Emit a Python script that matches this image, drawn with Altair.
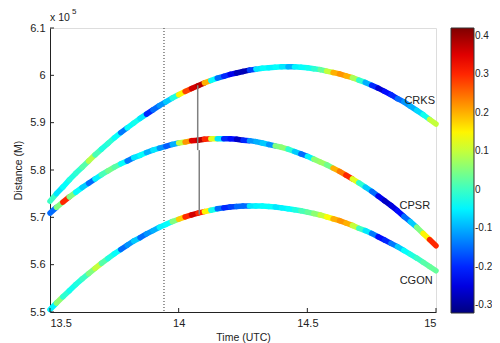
import altair as alt
import pandas as pd

# sample times (UTC hours)
times = [13.5, 13.525, 13.55, 13.575, 13.6, 13.625, 13.65, 13.675, 13.7, 13.725,
         13.75, 13.775, 13.8, 13.825, 13.85, 13.875, 13.9, 13.925, 13.95, 13.975,
         14.0, 14.025, 14.05, 14.075, 14.1, 14.125, 14.15, 14.175, 14.2, 14.225,
         14.25, 14.275, 14.3, 14.325, 14.35, 14.375, 14.4, 14.425, 14.45, 14.475,
         14.5, 14.525, 14.55, 14.575, 14.6, 14.625, 14.65, 14.675, 14.7, 14.725,
         14.75, 14.775, 14.8, 14.825, 14.85, 14.875, 14.9, 14.925, 14.95, 14.975,
         15.0]

# distances (x 10^5 m)
crks_d = [5.734, 5.750, 5.764, 5.779, 5.793, 5.806, 5.819, 5.832, 5.844, 5.856,
          5.868, 5.879, 5.889, 5.899, 5.909, 5.918, 5.927, 5.936, 5.944, 5.952,
          5.959, 5.966, 5.972, 5.978, 5.984, 5.989, 5.994, 5.998, 6.002, 6.005,
          6.008, 6.011, 6.013, 6.015, 6.016, 6.017, 6.018, 6.018, 6.018, 6.017,
          6.016, 6.014, 6.012, 6.009, 6.006, 6.003, 5.999, 5.995, 5.990, 5.985,
          5.979, 5.973, 5.966, 5.959, 5.951, 5.944, 5.935, 5.926, 5.917, 5.907,
          5.897]
cpsr_d = [5.709, 5.721, 5.732, 5.743, 5.753, 5.763, 5.772, 5.781, 5.790, 5.798,
          5.806, 5.813, 5.819, 5.826, 5.831, 5.837, 5.842, 5.846, 5.850, 5.854,
          5.857, 5.859, 5.862, 5.863, 5.865, 5.866, 5.866, 5.866, 5.866, 5.865,
          5.863, 5.862, 5.860, 5.857, 5.854, 5.851, 5.848, 5.844, 5.839, 5.834,
          5.829, 5.823, 5.817, 5.811, 5.804, 5.797, 5.789, 5.781, 5.773, 5.764,
          5.755, 5.745, 5.735, 5.725, 5.714, 5.702, 5.691, 5.679, 5.666, 5.653,
          5.640]
cgon_d = [5.505, 5.519, 5.532, 5.545, 5.558, 5.570, 5.581, 5.592, 5.603, 5.613,
          5.623, 5.632, 5.641, 5.650, 5.657, 5.665, 5.672, 5.679, 5.685, 5.691,
          5.696, 5.701, 5.705, 5.709, 5.712, 5.715, 5.718, 5.720, 5.722, 5.723,
          5.724, 5.724, 5.724, 5.724, 5.723, 5.722, 5.720, 5.718, 5.716, 5.714,
          5.711, 5.708, 5.705, 5.701, 5.697, 5.693, 5.688, 5.683, 5.677, 5.672,
          5.666, 5.659, 5.652, 5.645, 5.638, 5.630, 5.622, 5.614, 5.605, 5.596,
          5.587]

# colour values per segment
crks_c = [0.0, -0.06, -0.04, -0.02, -0.01, 0.02, 0.09, 0.01, -0.02, -0.01,
          -0.04, -0.14, -0.04, -0.03, -0.06, -0.2, -0.15, -0.12, -0.08, -0.02,
          0.15, 0.28, 0.36, 0.38, 0.2, -0.04, -0.15, -0.2, -0.24, -0.28,
          -0.28, -0.18, -0.06, -0.04, -0.05, -0.04, -0.06, -0.1, -0.05, -0.04,
          -0.03, -0.01, 0.03, 0.1, 0.2, 0.22, 0.2, 0.08, -0.01, -0.1,
          -0.2, -0.26, -0.22, -0.2, -0.15, -0.12, -0.1, -0.07, -0.03, 0.1]
cpsr_c = [-0.15, 0.05, 0.3, 0.05, -0.04, -0.08, -0.15, -0.05, 0.01, 0.04,
          0.02, -0.04, -0.14, -0.06, -0.04, -0.1, -0.06, -0.12, -0.16, -0.1,
          0.1, 0.22, 0.35, 0.38, 0.3, 0.12, -0.06, -0.2, -0.22, -0.27,
          -0.2, -0.12, -0.1, -0.08, -0.12, 0.05, 0.06, -0.01, -0.08, -0.15,
          -0.05, 0.06, 0.07, 0.04, 0.2, 0.24, 0.3, 0.12, -0.01, -0.08,
          -0.15, -0.24, -0.27, -0.25, -0.22, -0.15, -0.08, 0.05, 0.15, 0.3]
cgon_c = [-0.05, 0.06, -0.01, -0.03, -0.02, 0.0, 0.05, 0.1, 0.02, -0.02,
          -0.04, -0.15, -0.12, -0.08, -0.15, -0.12, -0.1, -0.05, -0.04, 0.05,
          0.18, 0.3, 0.36, 0.3, 0.15, -0.03, -0.15, -0.2, -0.18, -0.15,
          -0.15, -0.06, -0.05, -0.04, -0.04, -0.06, -0.05, -0.04, -0.02, 0.01,
          0.03, 0.06, 0.1, 0.14, 0.2, 0.22, 0.2, 0.1, 0.0, -0.06,
          -0.14, -0.22, -0.2, -0.14, -0.08, -0.04, -0.02, 0.0, 0.02, 0.03]

curve_names = ["CRKS", "CPSR", "CGON"]
label_t = [14.996, 14.977, 14.987]
label_d = [5.945, 5.724, 5.565]

dotted_t = [13.943]
conn_t = [14.074, 14.080]
conn_top = [5.979, 5.842]
conn_bot = [5.842, 5.706]

x_ticks = [13.5, 14.0, 14.5, 15.0]
y_ticks = [5.5, 5.6, 5.7, 5.8, 5.9, 6.0, 6.1]
cbar_ticks = [-0.3, -0.2, -0.1, 0.0, 0.1, 0.2, 0.3, 0.4]
cbar_domain = [-0.32, -0.2275, -0.0425, 0.1425, 0.3275, 0.42]
jet_colors = ["#000080", "#0000ff", "#00ffff", "#ffff00", "#ff0000", "#800000"]

rows = []
for name, ds, cs in zip(curve_names, [crks_d, cpsr_d, cgon_d], [crks_c, cpsr_c, cgon_c]):
    for i in range(len(cs)):
        rows.append({"curve": name, "t": times[i], "d": ds[i],
                     "t2": times[i + 1], "d2": ds[i + 1], "v": cs[i]})
seg = pd.DataFrame(rows)

FONT = "Liberation Sans"
xscale = alt.Scale(domain=[13.5, 15], nice=False, zero=False)
yscale = alt.Scale(domain=[5.5, 6.1], nice=False, zero=False)
cscale = alt.Scale(domain=cbar_domain, range=jet_colors, interpolate="rgb", clamp=True)

xaxis = alt.Axis(values=x_ticks, labelExpr="'' + datum.value", ticks=False, tickSize=0,
                 grid=False, labelPadding=5, labelFontSize=11, labelFont=FONT,
                 labelColor="#222", domainColor="#222", title="Time (UTC)",
                 titleFont=FONT, titleFontSize=10.5, titleFontWeight="normal",
                 titleColor="#222", titleX=193, titleY=25, titleBaseline="middle",
                 titleAlign="center")
yaxis = alt.Axis(values=y_ticks, labelExpr="'' + datum.value", ticks=False, tickSize=0,
                 grid=False, labelPadding=5, labelFontSize=11, labelFont=FONT,
                 labelColor="#222", domainColor="#222", title="Distance (M)",
                 titleFont=FONT, titleFontSize=10.5, titleFontWeight="normal",
                 titleColor="#222", titleX=-32, titleY=142, titleBaseline="middle",
                 titleAlign="center", titleAngle=270)

segments = alt.Chart(seg).mark_rule(strokeWidth=5.5, strokeCap="round").encode(
    x=alt.X("t:Q", scale=xscale, axis=xaxis),
    x2="t2:Q",
    y=alt.Y("d:Q", scale=yscale, axis=yaxis),
    y2="d2:Q",
    color=alt.Color("v:Q", scale=cscale, title=None,
                    legend=alt.Legend(orient="none", legendX=401, legendY=0,
                                      direction="vertical", gradientLength=285,
                                      gradientThickness=23, values=cbar_ticks,
                                      labelExpr="'' + datum.value", labelFont=FONT,
                                      labelFontSize=10, labelColor="#222", labelOffset=1,
                                      gradientStrokeColor="#333", gradientStrokeWidth=1,
                                      padding=0)),
)

dotted = alt.Chart(pd.DataFrame({"t": dotted_t})).mark_rule(
    strokeDash=[1, 2], color="#333", strokeWidth=1).encode(x=alt.X("t:Q", scale=xscale))

conn = alt.Chart(pd.DataFrame({"t": conn_t, "a": conn_top, "b": conn_bot})).mark_rule(
    color="#808080", strokeWidth=1.5).encode(
    x=alt.X("t:Q", scale=xscale), y=alt.Y("a:Q", scale=yscale), y2="b:Q")

labels = alt.Chart(pd.DataFrame({"t": label_t, "d": label_d, "name": curve_names})).mark_text(
    align="right", baseline="middle", font=FONT, fontSize=11, color="#222").encode(
    x=alt.X("t:Q", scale=xscale), y=alt.Y("d:Q", scale=yscale), text="name:N")

xt = alt.Chart(pd.DataFrame({"v": x_ticks})).mark_rule(color="#222", strokeWidth=1).encode(
    x=alt.X("v:Q", scale=xscale), y=alt.value(284), y2=alt.value(280))
yt = alt.Chart(pd.DataFrame({"v": y_ticks})).mark_rule(color="#222", strokeWidth=1).encode(
    y=alt.Y("v:Q", scale=yscale), x=alt.value(0), x2=alt.value(4))

expo = alt.Chart(pd.DataFrame({"s": ["x 10"]})).mark_text(
    align="left", baseline="middle", font=FONT, fontSize=10.5, color="#222").encode(
    x=alt.value(0), y=alt.value(-10), text="s:N")
expo5 = alt.Chart(pd.DataFrame({"s": ["5"]})).mark_text(
    align="left", baseline="middle", font=FONT, fontSize=8, color="#222").encode(
    x=alt.value(22), y=alt.value(-16), text="s:N")

chart = alt.layer(dotted, segments, conn, labels, xt, yt, expo, expo5).properties(
    width=386, height=284,
    autosize=alt.AutoSizeParams(type="none"),
    padding={"left": 42, "top": 20, "right": 56, "bottom": 31},
).configure_view(stroke=None).configure(background="white")

chart.save("out.html", embed_options={"renderer": "svg", "actions": False})
